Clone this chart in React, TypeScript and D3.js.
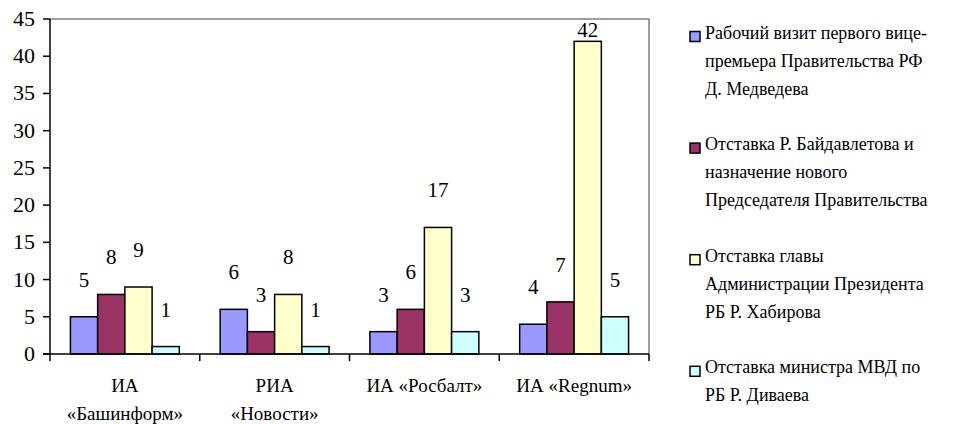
import React from 'react';
import * as d3 from 'd3';

// категории (подписи по строкам)
const categories = ['ИА «Башинформ»', 'РИА «Новости»', 'ИА «Росбалт»', 'ИА «Regnum»'];
const categoryLines = [
  ['ИА', '«Башинформ»'],
  ['РИА', '«Новости»'],
  ['ИА «Росбалт»'],
  ['ИА «Regnum»'],
];

const seriesNames = [
  'Рабочий визит первого вице-премьера Правительства РФ Д. Медведева',
  'Отставка Р. Байдавлетова и назначение нового Председателя Правительства',
  'Отставка главы Администрации Президента РБ Р. Хабирова',
  'Отставка министра МВД по РБ Р. Диваева',
];
const legendLines = [
  ['Рабочий визит первого вице-', 'премьера Правительства РФ', 'Д. Медведева'],
  ['Отставка Р. Байдавлетова и', 'назначение нового', 'Председателя Правительства'],
  ['Отставка главы', 'Администрации Президента', 'РБ Р. Хабирова'],
  ['Отставка министра МВД по', 'РБ Р. Диваева'],
];

const medvedev = [5, 6, 3, 4];
const baidavletov = [8, 3, 6, 7];
const khabirov = [9, 8, 17, 42];
const divaev = [1, 1, 3, 5];
const seriesValues = [medvedev, baidavletov, khabirov, divaev];

const colors = ['#9999FF', '#993366', '#FFFFCC', '#CCFFFF'];
const yTicks = [0, 5, 10, 15, 20, 25, 30, 35, 40, 45];

const FONT = "'Tinos', 'Liberation Serif', 'FreeSerif'";

export default function App() {
  const width = 971;
  const height = 424;
  // координаты внутри svg сдвинуты на -8 из-за отступа body
  const plot = { left: 42, top: 11, right: 641, bottom: 346 };

  const x = d3.scaleBand()
    .domain(categories)
    .range([plot.left, plot.right])
    .padding(0);

  const xSub = d3.scaleBand<number>()
    .domain(d3.range(seriesNames.length))
    .range([0, x.bandwidth()])
    .paddingOuter(0.75)
    .paddingInner(0);

  const y = d3.scaleLinear()
    .domain([0, 45])
    .range([plot.bottom, plot.top]);

  const boundaries = [...categories.map(c => x(c)!), plot.right];

  return (
    <svg width={width - 8} height={height - 8}>
      {/* рамка области построения */}
      <path
        d={`M${plot.left},${plot.top}H${plot.right}V${plot.bottom}`}
        fill="none"
        stroke="#808080"
        strokeWidth={1.5}
      />

      {/* столбцы и подписи данных */}
      {categories.map((c, ci) => (
        <g key={c} transform={`translate(${x(c)},0)`}>
          {seriesValues.map((vals, si) => {
            const v = vals[ci];
            const cx = xSub(si)! + xSub.bandwidth() / 2;
            return (
              <g key={si}>
                <rect
                  x={xSub(si)!}
                  y={y(v)}
                  width={xSub.bandwidth()}
                  height={y(0) - y(v)}
                  fill={colors[si]}
                  stroke="#000"
                  strokeWidth={1.5}
                />
                <text x={cx} y={Math.max(y(v) - 30, plot.top + 18)} textAnchor="middle" style={{ fontFamily: FONT, fontSize: 21 }}>
                  {v}
                </text>
              </g>
            );
          })}
        </g>
      ))}

      {/* ось Y */}
      <line x1={plot.left} x2={plot.left} y1={plot.top} y2={plot.bottom} stroke="#000" strokeWidth={1.5} />
      {yTicks.map(t => (
        <g key={t}>
          <line x1={plot.left - 7} x2={plot.left} y1={y(t)} y2={y(t)} stroke="#000" strokeWidth={1.5} />
          <text x={plot.left - 15} y={y(t) + 7} textAnchor="end" style={{ fontFamily: FONT, fontSize: 22 }}>
            {t}
          </text>
        </g>
      ))}

      {/* ось X */}
      <line x1={plot.left - 7} x2={plot.right} y1={plot.bottom} y2={plot.bottom} stroke="#000" strokeWidth={1.5} />
      {boundaries.map((b, i) => (
        <line key={i} x1={b} x2={b} y1={plot.bottom} y2={plot.bottom + 7} stroke="#000" strokeWidth={1.5} />
      ))}
      {categories.map((c, ci) => {
        const cx = x(c)! + x.bandwidth() / 2;
        return (
          <text key={c} x={cx} y={plot.bottom + 38} textAnchor="middle" style={{ fontFamily: FONT, fontSize: 19 }}>
            {categoryLines[ci].map((line, li) => (
              <tspan key={li} x={cx} dy={li === 0 ? 0 : 28}>{line}</tspan>
            ))}
          </text>
        );
      })}

      {/* легенда */}
      {legendLines.map((lines, i) => {
        const base = 30.5 + i * 111.6;
        return (
          <g key={i}>
            <rect x={682} y={base - 7} width={10} height={10} fill={colors[i]} stroke="#000" strokeWidth={1.5} />
            <text x={697} y={base} style={{ fontFamily: FONT, fontSize: 18 }}>
              {lines.map((line, li) => (
                <tspan key={li} x={697} dy={li === 0 ? 0 : 28}>{line}</tspan>
              ))}
            </text>
          </g>
        );
      })}
    </svg>
  );
}
